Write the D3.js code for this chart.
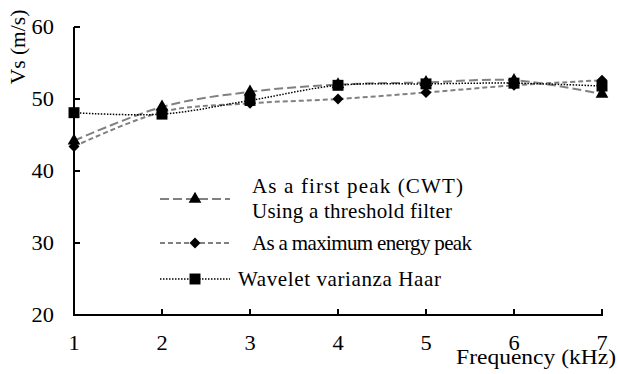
<!DOCTYPE html>
<html>
<head>
<meta charset="utf-8">
<script src="https://cdn.jsdelivr.net/npm/d3@7"></script>
<style>
	body { margin: 0; background: #fff; }
</style>
</head>
<body>
<svg id="main_svg"></svg>
<script>
const WIDTH = 618;
const HEIGHT = 374;
const FONT = 'Liberation Serif';
const STRETCH = 1.12; // the original text is a bit wider than plain Times

const freq = [1, 2, 3, 4, 5, 6, 7];
const x_ticks = [1, 2, 3, 4, 5, 6, 7];
const y_ticks = [20, 30, 40, 50, 60];

const first_peak = [44.2, 48.9, 51.0, 52.0, 52.3, 52.6, 50.7];
const max_energy = [43.4, 48.2, 49.4, 50.0, 50.9, 51.9, 52.6];
const wavelet_haar = [48.1, 47.9, 49.8, 51.9, 52.1, 52.2, 51.8];

const series = [
	{ name: ['As a first peak (CWT)', 'Using a threshold filter'], values: first_peak, dash: '9,4', color: '#808080', symbol: d3.symbolTriangle, size: 70, rot: 0 },
	{ name: ['As a maximum energy peak'], values: max_energy, dash: '5,3', color: '#808080', symbol: d3.symbolSquare, size: 60, rot: 45 },
	{ name: ['Wavelet varianza Haar'], values: wavelet_haar, dash: '1.5,1.5', color: '#000', symbol: d3.symbolSquare, size: 120, rot: 0 }
];

const svg = d3.select('#main_svg').attr('width', WIDTH).attr('height', HEIGHT);

const x_scale = d3.scaleLinear().domain([1, 7]).range([74, 602]);
const y_scale = d3.scaleLinear().domain([20, 60]).range([315, 27]);

const add_text = (sel) => sel.attr('font-family', FONT).attr('fill', '#000');

// axes
svg.append('line')
	.attr('x1', x_scale(1)).attr('x2', x_scale(1))
	.attr('y1', y_scale(60)).attr('y2', y_scale(20))
	.attr('stroke', '#000').attr('stroke-width', 2);
svg.append('line')
	.attr('x1', x_scale(1) - 1).attr('x2', x_scale(7) + 1)
	.attr('y1', y_scale(20)).attr('y2', y_scale(20))
	.attr('stroke', '#000').attr('stroke-width', 2);

svg.selectAll('.y_tick')
	.data(y_ticks.filter(d => d > 20))
	.enter()
	.append('line')
	.attr('x1', x_scale(1)).attr('x2', x_scale(1) + 6)
	.attr('y1', d => y_scale(d)).attr('y2', d => y_scale(d))
	.attr('stroke', '#000').attr('stroke-width', 2);

svg.selectAll('.x_tick')
	.data(x_ticks.filter(d => d > 1))
	.enter()
	.append('line')
	.attr('x1', d => x_scale(d)).attr('x2', d => x_scale(d))
	.attr('y1', y_scale(20)).attr('y2', y_scale(20) - 6)
	.attr('stroke', '#000').attr('stroke-width', 2);

svg.selectAll('.y_label')
	.data(y_ticks)
	.enter()
	.append('text')
	.attr('transform', d => `translate(54,${y_scale(d)}) scale(${STRETCH},1)`)
	.attr('dy', '0.35em')
	.attr('text-anchor', 'end')
	.attr('font-size', '20px')
	.call(add_text)
	.text(d => d);

svg.selectAll('.x_label')
	.data(x_ticks)
	.enter()
	.append('text')
	.attr('transform', d => `translate(${x_scale(d)},343) scale(${STRETCH},1)`)
	.attr('dy', '0.35em')
	.attr('text-anchor', 'middle')
	.attr('font-size', '20px')
	.call(add_text)
	.text(d => d);

svg.append('text')
	.attr('transform', `translate(616,357) scale(${STRETCH},1)`)
	.attr('dy', '0.35em')
	.attr('text-anchor', 'end')
	.attr('font-size', '21px')
	.call(add_text)
	.text('Frequency (kHz)');

svg.append('text')
	.attr('transform', 'translate(17,47) rotate(-90)')
	.attr('dy', '0.35em')
	.attr('text-anchor', 'middle')
	.attr('font-size', '21.5px')
	.call(add_text)
	.text('Vs (m/s)');

// series lines, smoothed like the original
const line = d3.line()
	.x(d => x_scale(d[0]))
	.y(d => y_scale(d[1]))
	.curve(d3.curveCatmullRom.alpha(0));

series.forEach(s => {
	svg.append('path')
		.datum(freq.map((f, i) => [f, s.values[i]]))
		.attr('d', line)
		.attr('fill', 'none')
		.attr('stroke', s.color)
		.attr('stroke-width', s.color === '#000' ? 1.5 : 2)
		.attr('stroke-dasharray', s.dash);
});

series.forEach(s => {
	svg.selectAll(null)
		.data(freq.map((f, i) => [f, s.values[i]]))
		.enter()
		.append('path')
		.attr('transform', d => `translate(${x_scale(d[0])},${y_scale(d[1])}) rotate(${s.rot})`)
		.attr('d', d3.symbol().type(s.symbol).size(s.size))
		.attr('fill', '#000');
});

// legend
const legend_y = [199, 243, 279];
const legend_text_x = [252, 252, 238];
const legend_text_len = [[211, 200], [220], [203]];
series.forEach((s, i) => {
	const g = svg.append('g').attr('transform', `translate(0,${legend_y[i]})`);
	g.append('line')
		.attr('x1', 160).attr('x2', 230)
		.attr('stroke', s.color)
		.attr('stroke-width', s.color === '#000' ? 1.5 : 2)
		.attr('stroke-dasharray', s.dash);
	g.append('path')
		.attr('transform', `translate(195,0) rotate(${s.rot})`)
		.attr('d', d3.symbol().type(s.symbol).size(s.size))
		.attr('fill', '#000');
	const offset = s.name.length > 1 ? -13 : 0;
	s.name.forEach((n, j) => {
		g.append('text')
			.attr('x', legend_text_x[i])
			.attr('y', offset + j * 25)
			.attr('dy', '0.35em')
			.attr('font-size', '21px')
			.attr('textLength', legend_text_len[i][j])
			.attr('lengthAdjust', 'spacing')
			.call(add_text)
			.text(n);
	});
});
</script>
</body>
</html>
